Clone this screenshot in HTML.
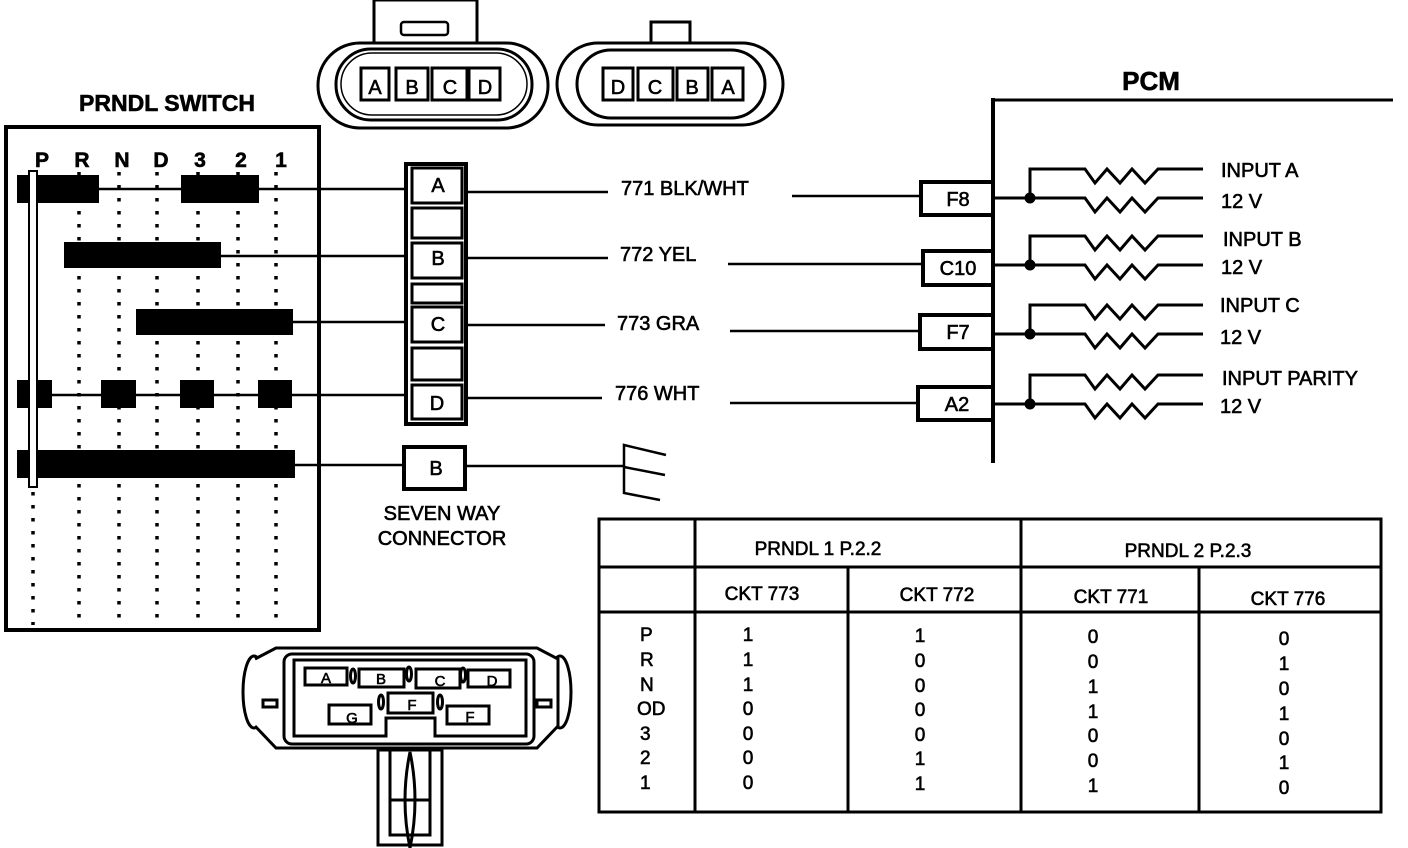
<!DOCTYPE html>
<html><head><meta charset="utf-8"><style>
html,body{margin:0;padding:0;background:#fff;}
svg{display:block;}
text{font-family:"Liberation Sans",Arial,sans-serif;fill:#000;stroke:#000;stroke-width:0.6;}
</style></head><body>
<svg width="1408" height="848" viewBox="0 0 1408 848" xmlns="http://www.w3.org/2000/svg">
<rect width="1408" height="848" fill="#fff"/>
<!-- top connector 1 -->
<g fill="none" stroke="#000" stroke-width="3">
<rect x="374" y="0" width="103" height="44" fill="#fff"/>
<rect x="401" y="22" width="47" height="13" rx="3" stroke-width="2.5"/>
<rect x="318" y="43" width="230" height="85" rx="42" fill="#fff"/>
<rect x="336" y="49" width="196" height="71" rx="35"/>
<rect x="341" y="53" width="186" height="62" rx="31" stroke-width="1.5"/>
<rect x="361" y="68" width="28" height="32" stroke-width="3"/>
<rect x="396" y="68" width="32" height="32"/>
<rect x="432" y="68" width="35" height="32"/>
<rect x="469" y="68" width="31" height="32"/>
<!-- connector 2 -->
<rect x="651" y="22" width="39" height="22" fill="#fff"/>
<rect x="557" y="43" width="226" height="82" rx="41" fill="#fff"/>
<rect x="577" y="50" width="188" height="68" rx="34"/>
<rect x="603" y="68" width="30" height="32"/>
<rect x="638" y="68" width="35" height="32"/>
<rect x="677" y="68" width="31" height="32"/>
<rect x="712" y="68" width="31" height="32"/>
</g>
<g font-size="20" text-anchor="middle">
<text x="375" y="94">A</text><text x="412" y="94">B</text><text x="450" y="94">C</text><text x="485" y="94">D</text>
<text x="618" y="94">D</text><text x="655" y="94">C</text><text x="692" y="94">B</text><text x="728" y="94">A</text>
</g>

<!-- PRNDL switch -->
<text x="167" y="111" font-size="23" font-weight="bold" text-anchor="middle">PRNDL SWITCH</text>
<rect x="6" y="127" width="313" height="503" fill="none" stroke="#000" stroke-width="4"/>
<g font-size="21" font-weight="bold" text-anchor="middle">
<text x="42" y="167">P</text><text x="82" y="167">R</text><text x="122" y="167">N</text><text x="161" y="167">D</text><text x="200" y="167">3</text><text x="241" y="167">2</text><text x="281" y="167">1</text>
</g>
<g stroke="#000" stroke-width="3.5" stroke-dasharray="3.5 9.5" fill="none">
<line x1="79" y1="172" x2="79" y2="625"/>
<line x1="119" y1="172" x2="119" y2="625"/>
<line x1="157" y1="172" x2="157" y2="625"/>
<line x1="198" y1="172" x2="198" y2="625"/>
<line x1="238" y1="172" x2="238" y2="625"/>
<line x1="276" y1="172" x2="276" y2="625"/>
<line x1="33" y1="492" x2="33" y2="625"/>
</g>
<g stroke="#000" stroke-width="2.5">
<line x1="17" y1="189" x2="407" y2="189"/>
<line x1="64" y1="256" x2="407" y2="256"/>
<line x1="136" y1="322" x2="407" y2="322"/>
<line x1="17" y1="395" x2="407" y2="395"/>
<line x1="17" y1="465" x2="405" y2="465"/>
</g>
<g fill="#000">
<rect x="17" y="175" width="82" height="28"/><rect x="181" y="175" width="78" height="28"/>
<rect x="64" y="242" width="157" height="26"/>
<rect x="136" y="309" width="157" height="26"/>
<rect x="17" y="380" width="35" height="28"/><rect x="101" y="380" width="35" height="28"/><rect x="180" y="380" width="34" height="28"/><rect x="258" y="380" width="34" height="28"/>
<rect x="17" y="450" width="278" height="28"/>
</g>
<rect x="29" y="171" width="8" height="316" fill="#fff" stroke="#000" stroke-width="2"/>

<!-- seven way connector -->
<g fill="#fff" stroke="#000" stroke-width="4">
<rect x="406" y="164" width="60" height="260"/>
</g>
<g fill="none" stroke="#000" stroke-width="3">
<rect x="412" y="168" width="50" height="35"/>
<rect x="412" y="208" width="50" height="30"/>
<rect x="412" y="243" width="50" height="35"/>
<rect x="412" y="284" width="50" height="19"/>
<rect x="412" y="307" width="50" height="35"/>
<rect x="412" y="348" width="50" height="32"/>
<rect x="412" y="385" width="50" height="34"/>
<rect x="404" y="447" width="61" height="42" stroke-width="4"/>
</g>
<g font-size="20" text-anchor="middle">
<text x="438" y="192">A</text><text x="438" y="265">B</text><text x="438" y="331">C</text><text x="437" y="410">D</text><text x="436" y="475">B</text>
<text x="442" y="520">SEVEN WAY</text><text x="442" y="545">CONNECTOR</text>
</g>
<g stroke="#000" stroke-width="2.5" fill="none">
<line x1="466" y1="192" x2="608" y2="192"/><line x1="792" y1="196" x2="922" y2="196"/>
<line x1="466" y1="258" x2="608" y2="258"/><line x1="728" y1="264" x2="922" y2="264"/>
<line x1="466" y1="325" x2="605" y2="325"/><line x1="730" y1="331" x2="922" y2="331"/>
<line x1="466" y1="398" x2="602" y2="398"/><line x1="730" y1="403" x2="922" y2="403"/>
<line x1="465" y1="466" x2="625" y2="466"/>
<polyline points="666,455 624,445 624,493 660,500"/>
<line x1="624" y1="467" x2="665" y2="475"/>
</g>
<g font-size="20">
<text x="621" y="195">771 BLK/WHT</text>
<text x="620" y="261">772 YEL</text>
<text x="617" y="330">773 GRA</text>
<text x="615" y="400">776 WHT</text>
</g>

<!-- PCM -->
<text x="1151" y="90" font-size="26" font-weight="bold" text-anchor="middle">PCM</text>
<line x1="993" y1="100" x2="1393" y2="100" stroke="#000" stroke-width="3"/>
<line x1="993" y1="98" x2="993" y2="463" stroke="#000" stroke-width="4"/>
<g fill="#fff" stroke="#000" stroke-width="4">
<rect x="921" y="182" width="72" height="33"/>
<rect x="923" y="251" width="70" height="34"/>
<rect x="920" y="315" width="73" height="34"/>
<rect x="918" y="387" width="75" height="33"/>
</g>
<g font-size="20" text-anchor="middle">
<text x="958" y="206">F8</text><text x="958" y="275">C10</text><text x="958" y="339">F7</text><text x="957" y="411">A2</text>
</g>
<defs>
<g id="res">
<polyline points="1030,0 1030,-29 1085,-29 1095,-15 1107,-29 1120,-15 1132,-29 1145,-15 1158,-29 1203,-29" fill="none" stroke="#000" stroke-width="3"/>
<polyline points="993,0 1085,0 1095,14 1107,0 1120,14 1132,0 1145,14 1158,0 1203,0" fill="none" stroke="#000" stroke-width="3"/>
<circle cx="1030" cy="0" r="5.5" fill="#000"/>
</g>
</defs>
<use href="#res" transform="translate(0,198)"/>
<use href="#res" transform="translate(0,265)"/>
<use href="#res" transform="translate(0,334)"/>
<use href="#res" transform="translate(0,404)"/>
<g font-size="20">
<text x="1221" y="177">INPUT A</text><text x="1221" y="208">12 V</text>
<text x="1223" y="246">INPUT B</text><text x="1221" y="274">12 V</text>
<text x="1220" y="312">INPUT C</text><text x="1220" y="344">12 V</text>
<text x="1222" y="385">INPUT PARITY</text><text x="1220" y="413">12 V</text>
</g>

<!-- table -->
<g stroke="#000" stroke-width="3" fill="none">
<rect x="599" y="519" width="782" height="293"/>
<line x1="695" y1="519" x2="695" y2="812"/>
<line x1="1021" y1="519" x2="1021" y2="812"/>
<line x1="848" y1="567" x2="848" y2="812"/>
<line x1="1199" y1="567" x2="1199" y2="812"/>
<line x1="599" y1="567" x2="1381" y2="567"/>
<line x1="599" y1="612" x2="1381" y2="612"/>
</g>
<g font-size="19" text-anchor="middle">
<text x="818" y="555">PRNDL 1 P.2.2</text>
<text x="1188" y="557">PRNDL 2 P.2.3</text>
<text x="762" y="600">CKT 773</text><text x="937" y="601">CKT 772</text>
<text x="1111" y="603">CKT 771</text><text x="1288" y="605">CKT 776</text>
</g>
<g font-size="19">
<text x="640" y="641">P</text><text x="640" y="666">R</text><text x="640" y="691">N</text><text x="637" y="715">OD</text><text x="640" y="740">3</text><text x="640" y="764">2</text><text x="640" y="789">1</text>
</g>
<g font-size="19" text-anchor="middle">
<text x="748" y="641">1</text><text x="748" y="666">1</text><text x="748" y="691">1</text><text x="748" y="715">0</text><text x="748" y="740">0</text><text x="748" y="764">0</text><text x="748" y="789">0</text>
<text x="920" y="642">1</text><text x="920" y="667">0</text><text x="920" y="692">0</text><text x="920" y="716">0</text><text x="920" y="741">0</text><text x="920" y="765">1</text><text x="920" y="790">1</text>
<text x="1093" y="643">0</text><text x="1093" y="668">0</text><text x="1093" y="693">1</text><text x="1093" y="718">1</text><text x="1093" y="742">0</text><text x="1093" y="767">0</text><text x="1093" y="792">1</text>
<text x="1284" y="645">0</text><text x="1284" y="670">1</text><text x="1284" y="695">0</text><text x="1284" y="720">1</text><text x="1284" y="745">0</text><text x="1284" y="769">1</text><text x="1284" y="794">0</text>
</g>

<!-- bottom connector -->
<g fill="none" stroke="#000" stroke-width="3">
<ellipse cx="254" cy="692" rx="11" ry="36" fill="#fff"/>
<ellipse cx="560" cy="692" rx="11" ry="36" fill="#fff"/>
<path d="M255,659 L276,648 L537,648 L558,659 L558,726 L537,748 L276,748 L255,726" fill="#fff"/>
<rect x="284" y="654" width="250" height="90" rx="8"/>
<path d="M294,660 H526 V736 H435 V718 H386 V736 H294 Z" />
<rect x="263" y="700" width="14" height="7"/>
<rect x="537" y="700" width="14" height="7"/>
<rect x="305" y="668" width="42" height="17"/>
<rect x="359" y="669" width="45" height="18"/>
<rect x="416" y="669" width="44" height="19"/>
<rect x="468" y="670" width="42" height="17"/>
<rect x="388" y="693" width="45" height="20"/>
<rect x="329" y="705" width="42" height="19"/>
<rect x="447" y="706" width="42" height="18"/>
<ellipse cx="353" cy="676" rx="2.5" ry="7"/><ellipse cx="409" cy="674" rx="2.5" ry="7"/><ellipse cx="463" cy="675" rx="2.5" ry="7"/>
<ellipse cx="381" cy="702" rx="2.5" ry="7"/><ellipse cx="440" cy="702" rx="2.5" ry="7"/>
<rect x="378" y="750" width="64" height="95" fill="#fff"/>
<rect x="390" y="750" width="40" height="85"/>
<path d="M410,752 Q420,800 410,848 Q400,800 410,752 Z"/>
<line x1="390" y1="800" x2="430" y2="800"/>
</g>
<g font-size="15" text-anchor="middle">
<text x="326" y="683">A</text><text x="381" y="684">B</text><text x="440" y="686">C</text><text x="492" y="686">D</text>
<text x="412" y="710">F</text><text x="352" y="723">G</text><text x="470" y="722">F</text>
</g>
</svg>
</body></html>
